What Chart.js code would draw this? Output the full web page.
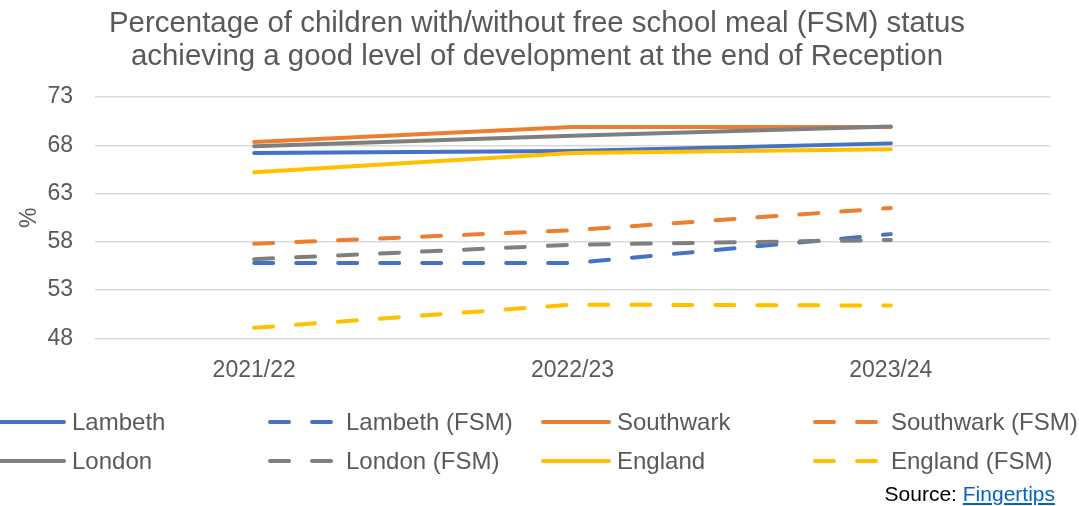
<!DOCTYPE html>
<html>
<head>
<meta charset="utf-8">
<script src="https://cdn.jsdelivr.net/npm/chart.js@4"></script>
<style>
    html, body { margin: 0; padding: 0; background: #fff; }
    #wrap { position: relative; width: 1079px; height: 506px; overflow: hidden; }
    #source {
        position: absolute; right: 24px; top: 482px;
        font: 21px "Liberation Sans", Arial, sans-serif; color: #000;
    }
    #source a { color: #0563C1; text-decoration: underline; }
</style>
</head>
<body>
<div id="wrap">
    <canvas id="fsmChart" width="1079" height="506"></canvas>
    <div id="source">Source: <a href="#">Fingertips</a></div>
</div>
<script>
// school years on the x axis
const years = ['2021/22', '2022/23', '2023/24'];

// % achieving a good level of development
const lambeth = [67.2, 67.4, 68.2];
const lambethFsm = [55.8, 55.8, 58.8];
const southwark = [68.35, 69.9, 69.9];
const southwarkFsm = [57.8, 59.2, 61.5];
const london = [67.9, 69.0, 69.95];
const londonFsm = [56.2, 57.7, 58.2];
const england = [65.2, 67.2, 67.6];
const englandFsm = [49.1, 51.5, 51.4];

const yTicks = [48, 53, 58, 63, 68, 73];

const BLUE = '#4472C4', ORANGE = '#ED7D31', GREY = '#7F7F7F', GOLD = '#FFC000';
const FONT = '"Liberation Sans", Arial, sans-serif';
const TEXT = '#595959';

const series = [
    { label: 'Lambeth', data: lambeth, color: BLUE, dashed: false },
    { label: 'Lambeth (FSM)', data: lambethFsm, color: BLUE, dashed: true },
    { label: 'Southwark', data: southwark, color: ORANGE, dashed: false },
    { label: 'Southwark (FSM)', data: southwarkFsm, color: ORANGE, dashed: true },
    { label: 'London', data: london, color: GREY, dashed: false },
    { label: 'London (FSM)', data: londonFsm, color: GREY, dashed: true },
    { label: 'England', data: england, color: GOLD, dashed: false },
    { label: 'England (FSM)', data: englandFsm, color: GOLD, dashed: true }
];

const DASH = [19, 23];

// two-row legend under the chart, four fixed columns
const gridLegend = {
    id: 'gridLegend',
    afterDraw(chart) {
        const ctx = chart.ctx;
        const lineEnds = [66, 333, 611, 878];
        const rows = [422, 461];
        ctx.save();
        ctx.font = '24px ' + FONT;
        ctx.textBaseline = 'middle';
        chart.data.datasets.forEach((ds, i) => {
            const x1 = lineEnds[i % 4];
            const y = rows[Math.floor(i / 4)];
            const dashed = ds.borderDash && ds.borderDash.length > 0;
            ctx.strokeStyle = ds.borderColor;
            ctx.lineWidth = 4;
            ctx.lineCap = 'round';
            ctx.setLineDash(dashed ? ds.borderDash : []);
            ctx.beginPath();
            ctx.moveTo(x1 - (dashed ? 63 : 68), y);
            ctx.lineTo(x1 - 2, y);
            ctx.stroke();
            ctx.setLineDash([]);
            ctx.fillStyle = TEXT;
            ctx.fillText(ds.label, x1 + (dashed ? 13 : 6), y + 1);
        });
        ctx.restore();
    }
};

new Chart(document.getElementById('fsmChart'), {
    type: 'line',
    data: {
        labels: years,
        datasets: series.map((s, i) => ({
            label: s.label,
            data: s.data,
            borderColor: s.color,
            backgroundColor: s.color,
            borderWidth: 4,
            borderCapStyle: 'round',
            borderDash: s.dashed ? DASH : [],
            pointRadius: 0,
            tension: 0,
            order: series.length - i
        }))
    },
    options: {
        responsive: false,
        animation: false,
        // left/right kept balanced so the title sits in the middle of the page
        layout: { padding: { left: 12, right: 17, top: 0, bottom: 112 } },
        plugins: {
            legend: { display: false },
            tooltip: { enabled: false },
            title: {
                display: true,
                text: ['Percentage of children with/without free school meal (FSM) status',
                       'achieving a good level of development at the end of Reception'],
                color: TEXT,
                font: { family: FONT, size: 29.4, weight: 'normal', lineHeight: 1.14 },
                padding: { top: 7, bottom: 23 }
            }
        },
        scales: {
            x: {
                offset: true,
                grid: { display: false },
                border: { display: false },
                ticks: { color: TEXT, font: { family: FONT, size: 23 }, padding: 10 },
                afterFit: axis => { axis.paddingRight = 0; }
            },
            y: {
                min: 48,
                max: 73,
                afterBuildTicks: axis => { axis.ticks = yTicks.map(v => ({ value: v })); },
                afterFit: axis => { axis.width = 83; },
                grid: { color: '#D9D9D9', lineWidth: 1.5, drawTicks: false },
                border: { display: false },
                ticks: { color: TEXT, font: { family: FONT, size: 23 }, padding: 22 },
                title: {
                    display: true,
                    text: '%',
                    color: TEXT,
                    font: { family: FONT, size: 23 },
                    padding: { top: 4, bottom: 0 }
                }
            },
            // empty strip on the right, keeps the plot clear of the page edge
            gutter: {
                position: 'right',
                min: 48,
                max: 73,
                grid: { display: false },
                border: { display: false },
                ticks: { display: false },
                afterFit: axis => { axis.width = 12; }
            }
        }
    },
    plugins: [gridLegend]
});
</script>
</body>
</html>
